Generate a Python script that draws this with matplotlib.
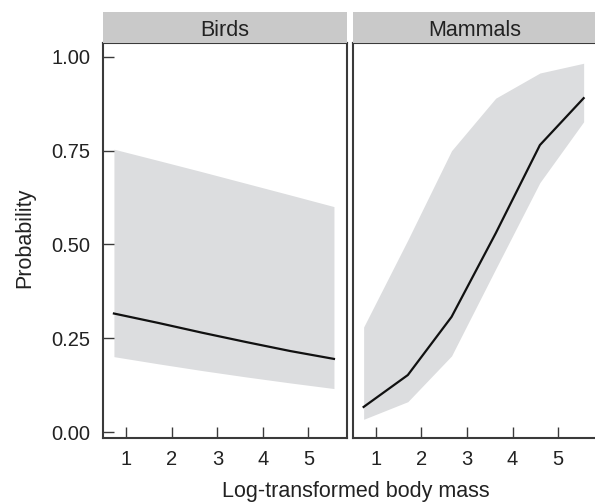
import matplotlib
matplotlib.use("Agg")
import matplotlib.pyplot as plt

plt.rcParams['font.family'] = ['Liberation Sans', 'DejaVu Sans']

panels = ["Birds", "Mammals"]
x_mass = [0.73, 1.70, 2.66, 3.63, 4.60, 5.56]

birds_fit = [0.316, 0.291, 0.265, 0.240, 0.216, 0.195]
birds_lo = [0.201, 0.182, 0.164, 0.147, 0.131, 0.116]
birds_hi = [0.754, 0.724, 0.694, 0.663, 0.632, 0.601]

mammals_fit = [0.067, 0.152, 0.307, 0.530, 0.765, 0.890]
mammals_lo = [0.034, 0.081, 0.203, 0.435, 0.665, 0.827]
mammals_hi = [0.280, 0.512, 0.750, 0.890, 0.957, 0.983]

x_ticks = [1, 2, 3, 4, 5]
y_ticks = [0.00, 0.25, 0.50, 0.75, 1.00]
y_tick_labels = ["0.00", "0.25", "0.50", "0.75", "1.00"]

W, H = 595, 503
fig = plt.figure(figsize=(W / 100, H / 100), dpi=100)
fig.patch.set_facecolor("white")

spine_col = "#3a3a3a"
text_col = "#222222"
band_col = "#dcdddf"
strip_col = "#c9c9c9"

tick_fs = 14.5
title_fs = 15.5

panel_left_px = [103, 352.7]
panel_w_px = 243.7
panel_top_px, panel_bot_px = 43, 437.7
strip_top_px = 12

data = [(birds_fit, birds_lo, birds_hi), (mammals_fit, mammals_lo, mammals_hi)]

for i, name in enumerate(panels):
    l = panel_left_px[i] / W
    b = (H - panel_bot_px) / H
    h = (panel_bot_px - panel_top_px) / H
    w = panel_w_px / W
    ax = fig.add_axes([l, b, w, h])
    fit, lo, hi = data[i]
    ax.fill_between(x_mass, lo, hi, color=band_col, linewidth=0, zorder=1)
    ax.plot(x_mass, fit, color="#111111", linewidth=1.6, zorder=2)
    ax.set_xlim(0.49, 5.84)
    ax.set_ylim(-0.015, 1.037)
    ax.set_xticks(x_ticks)
    ax.set_xticklabels([str(t) for t in x_ticks])
    ax.tick_params(axis="x", direction="in", length=8, width=1.0, color=spine_col,
                   labelsize=tick_fs, labelcolor=text_col, pad=9)
    if i == 0:
        ax.set_yticks(y_ticks)
        ax.set_yticklabels(y_tick_labels)
        ax.tick_params(axis="y", direction="in", length=8, width=1.0, color=spine_col,
                       labelsize=tick_fs, labelcolor=text_col, pad=9)
    else:
        ax.set_yticks([])
    for s in ax.spines.values():
        s.set_color(spine_col)
        s.set_linewidth(1.5)
    ax.set_facecolor("white")

    # strip
    sb = (H - panel_top_px) / H
    sh = (panel_top_px - strip_top_px) / H
    sax = fig.add_axes([l, sb, w, sh])
    sax.set_facecolor(strip_col)
    for s in sax.spines.values():
        s.set_visible(False)
    sax.set_xticks([])
    sax.set_yticks([])
    sax.text(0.5, 0.4, name, ha="center", va="center", fontsize=title_fs,
             color=text_col, transform=sax.transAxes)

fig.text(25 / W, 1 - 238 / H, "Probability", rotation=90, ha="center", va="center",
         fontsize=title_fs, color=text_col)
fig.text(356 / W, 1 - 492 / H, "Log-transformed body mass", ha="center", va="center",
         fontsize=title_fs, color=text_col)

fig.savefig("out.png", dpi=100, facecolor="white")
